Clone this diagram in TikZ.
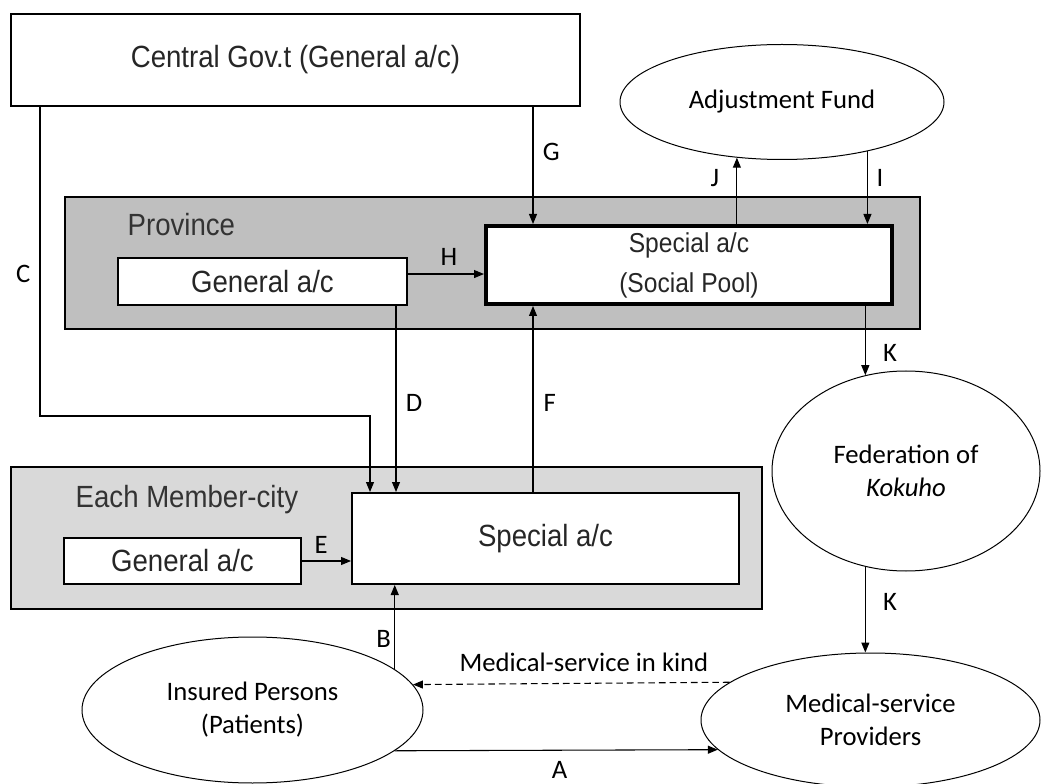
\documentclass[tikz,border=0pt]{standalone}
\usepackage{fontspec}
\setmainfont{Carlito}
\newfontfamily\narrowfont[FakeStretch=0.9]{Liberation Sans}
\usetikzlibrary{arrows.meta,shapes.geometric}

\begin{document}
\begin{tikzpicture}[x=0.75pt, y=-0.75pt,
  font=\fontsize{20}{24.75}\selectfont,
  flow/.style={-{Triangle[length=7.5pt,width=6pt]}, line width=0.8pt},
  acct/.style={draw, line width=1.5pt, fill=white, inner sep=0pt, text=black!85, font=\narrowfont\fontsize{23}{27}\selectfont},
  club/.style={draw, line width=1.5pt, inner sep=0pt},
  body/.style={draw, ellipse, line width=0.75pt, fill=white, inner sep=0pt, align=center},
  lab/.style={inner sep=0pt}]

\useasboundingbox (0,0) rectangle (1043,784);

% the two tiers, drawn first so the arrows sit on them
\node[club, fill=gray!50, minimum width=641.25pt, minimum height=99pt] (province) at (492.5,263) {};
\node[club, fill=gray!30, minimum width=563.25pt, minimum height=106.5pt] (city) at (386.5,538) {};
\node[anchor=west, font=\narrowfont\fontsize{23}{27}\selectfont, text=black!80] (provname) at (123,225) {Province};
\node[anchor=west, font=\narrowfont\fontsize{23}{27}\selectfont, text=black!80] (cityname) at (71,500) {Each Member-city};

% accounts
\node[acct, minimum width=426.75pt, minimum height=69pt] (central) at (295.5,60) {Central Gov.t (General a/c)};
\node[acct, minimum width=216.75pt, minimum height=35.25pt] (pgen) at (262.5,281.5) {General a/c};
\node[acct, line width=3pt, align=center, minimum width=304.5pt, minimum height=58.5pt,
      font=\narrowfont\fontsize{20.5}{30}\selectfont] (social) at (689,265) {Special a/c\\(Social Pool)};
\node[acct, minimum width=177.75pt, minimum height=34.5pt] (cgen) at (182.5,561) {General a/c};
\node[acct, minimum width=290.25pt, minimum height=68.25pt] (cspec) at (545.5,538.5) {Special a/c};

% bodies outside the accounts
\node[body, minimum width=243pt, minimum height=86.25pt] (adjust) at (782,102) {Adjustment Fund};
\node[body, minimum width=201pt, minimum height=150pt] (fed) at (906,471) {Federation of\\\textit{Kokuho}};
\node[body, minimum width=255.75pt, minimum height=109.5pt] (insured) at (252.5,710) {Insured Persons\\(Patients)};
\node[body, minimum width=254.25pt, minimum height=100.5pt] (medical) at (870.5,720) {Medical-service\\Providers};

% money flows
\coordinate (cbend) at (370,416);
\draw[flow] ([xshift=22.5pt]central.south west) |- (cbend)
  node[lab, pos=0.27, left=6.75pt] (labC) {C} -- (cbend |- cspec.north);
\draw[flow] ([xshift=-9pt]pgen.south east) -- ([xshift=-9pt]pgen.south east |- cspec.north)
  node[lab, pos=0.52, right=7pt] (labD) {D};
\draw[flow] (cgen.east) -- (cgen.east -| cspec.west)
  node[lab, pos=0.39, above=5pt] (labE) {E};
\draw[flow] ([xshift=36.75pt]social.south west |- cspec.north) -- ([xshift=36.75pt]social.south west)
  node[lab, pos=0.48, right=7.5pt] (labF) {F};
\draw[flow] ([xshift=36.75pt]social.north west |- central.south) -- ([xshift=36.75pt]social.north west)
  node[lab, pos=0.38, right=7pt] (labG) {G};
\draw[flow] ([yshift=5.6pt]pgen.east) -- ([yshift=5.6pt]pgen.east -| social.west)
  node[lab, pos=0.54, above=6pt] (labH) {H};
\draw[flow] (adjust.-30.8) -- (adjust.-30.8 |- social.north)
  node[lab, pos=0.36, right=6.5pt] (labI) {I};
\draw[flow] (adjust.-129.2 |- social.north) -- (adjust.-129.2)
  node[lab, pos=0.70, left=13pt] (labJ) {J};
\draw[flow] (fed.113.3 |- social.south) -- (fed.113.3)
  node[lab, pos=0.68, right=13pt] (labK) {K};
\draw[flow] (fed.-113.3) -- (fed.-113.3 |- medical.north)
  node[lab, pos=0.41, right=13pt] (labKK) {K};
\draw[flow] (insured.16.4) -- (insured.16.4 |- cspec.south)
  node[lab, pos=0.36, left=2.5pt] (labB) {B};
\draw[flow] (insured.-16.2) -- (medical.191.7)
  node[lab, pos=0.51, below=8pt] (labA) {A};

% service in kind
\draw[flow, dash pattern=on 5pt off 3pt] (medical.165.3) -- (insured.9.7)
  node[lab, pos=0.46, above=8pt] (labkind) {Medical-service in kind};

\end{tikzpicture}
\end{document}
